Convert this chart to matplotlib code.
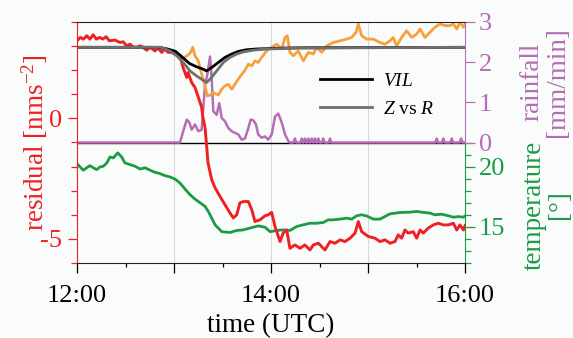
import matplotlib
matplotlib.use("Agg")
import matplotlib.pyplot as plt
from matplotlib.ticker import FixedLocator, FuncFormatter, MultipleLocator

plt.rcParams['font.family'] = ['Liberation Serif', 'DejaVu Serif']
plt.rcParams['mathtext.fontset'] = 'custom'
plt.rcParams['mathtext.rm'] = 'Liberation Serif'
plt.rcParams['mathtext.it'] = 'Liberation Serif:italic'
plt.rcParams['axes.unicode_minus'] = False
plt.rcParams['font.size'] = 19

# minutes after 12:00 UTC
red_t = [0, 2, 4, 6, 8, 10, 12, 14, 16, 18, 20, 23.5, 26.6, 28.5, 30.7, 32.8, 34.6, 36.9, 39, 40.8,
         43.1, 45.2, 48.2, 50.1, 52.4, 54.4, 56.3, 58.6, 60.6, 63.7, 65.6, 67.9, 68.7, 70.9, 73, 74.8,
         77.1, 77.9, 79.2, 80.2, 81, 83.3, 85.4, 88.5, 91.5, 94.6, 96.7, 98.8, 100.8, 102.9, 106, 108.1,
         110.1, 113.2, 116.3, 118.3, 120.4, 122.5, 125.6, 127.6, 129.7, 131.7, 134.8, 137.9, 141, 144.1,
         146.2, 149.3, 153.4, 156.5, 159.6, 162.7, 165.8, 168.9, 172, 174, 176.1, 180.2, 184.3, 187.4,
         190.5, 193.6, 196.7, 198.7, 200.8, 202.9, 204.9, 208, 210.1, 212.2, 214.2, 217.3, 220.4, 223.5,
         226.6, 229.7, 232.8, 234.9, 236.9, 239, 240]
residual = [3.22, 3.36, 3.29, 3.43, 3.29, 3.47, 3.29, 3.36, 3.29, 3.39, 3.22, 3.25, 3.15, 3.18, 3.01,
            3.08, 2.97, 2.95, 3.01, 2.95, 2.83, 2.95, 2.80, 2.92, 2.74, 2.88, 2.74, 2.74, 2.67, 2.60,
            2.11, 1.70, 1.90, 1.49, 1.28, 0.93, 0.46, 0.04, -0.38, -1.15, -1.83, -2.54, -2.88, -3.24,
            -3.58, -3.92, -4.13, -4.0, -3.5, -3.45, -3.45, -3.79, -4.28, -4.21, -4.04, -4.0, -3.9, -4.49,
            -5.11, -4.75, -4.63, -5.39, -5.25, -5.39, -5.25, -5.46, -5.25, -5.18, -5.46, -5.11, -5.18,
            -5.04, -5.11, -4.97, -4.76, -4.28, -4.70, -4.90, -4.97, -5.11, -5.04, -5.18, -5.11, -4.83,
            -4.97, -4.63, -4.76, -4.70, -4.97, -4.63, -4.76, -4.55, -4.42, -4.35, -4.42, -4.42, -4.35,
            -4.63, -4.42, -4.63, -4.45]

corr_t = [66, 69.9, 71.6, 73, 75, 77.1, 79.2, 80.6, 82.3, 84.3, 87.4, 89.5, 91.5, 93.6, 95.7, 97.7,
          99.8, 101.9, 103.9, 106, 108.1, 110.1, 112.1, 114.2, 117.3, 120.4, 123.5, 126.6, 128.7, 130.1,
          131.7, 133.8, 136.9, 140, 143.1, 146.2, 148.2, 151.4, 154.5, 158.5, 162.7, 166.8, 169.9, 172.6,
          174, 176.1, 179.2, 183.3, 187.4, 190.5, 193.6, 195.6, 197.7, 200.8, 203.9, 207, 210.1, 212.2,
          215.3, 218.3, 221.4, 224.5, 227.6, 230.7, 232.8, 234.9, 236.9, 239, 240]
corrected = [2.5, 2.7, 2.95, 2.6, 2.39, 1.83, 1.35, 0.93, 0.97, 1.07, 0.97, 1.21, 1.35, 1.42, 1.21,
             1.42, 1.63, 1.83, 2.0, 2.25, 2.18, 2.39, 2.32, 2.53, 2.8, 2.95, 3.08, 2.88, 3.36, 3.43,
             2.74, 2.6, 2.8, 2.39, 2.74, 2.67, 2.95, 2.74, 3.01, 3.15, 3.22, 3.29, 3.36, 3.57, 3.92,
             3.43, 3.29, 3.29, 3.15, 3.08, 3.22, 3.36, 3.01, 3.36, 3.64, 3.36, 3.5, 3.71, 3.36, 3.57,
             3.78, 3.92, 3.85, 3.85, 3.92, 3.71, 3.99, 3.78, 3.9]

vil_t = [0, 50, 56, 61, 65, 69.5, 74, 78.1, 80.2, 83.3, 87.4, 91.5, 95.7, 99.8, 105, 111.2, 119.4,
         129.7, 137.9, 240]
vil = [2.95, 2.95, 2.88, 2.78, 2.55, 2.28, 2.14, 2.04, 1.97, 2.11, 2.32, 2.53, 2.67, 2.78, 2.85,
       2.88, 2.9, 2.92, 2.93, 2.95]

zr_t = [0, 52, 57.5, 61.7, 65.7, 69.9, 74, 78.1, 80.2, 82.3, 86.4, 90.5, 94.6, 98.8, 102.9, 109.1,
        117.3, 127.6, 137.9, 240]
zr = [2.95, 2.95, 2.8, 2.6, 2.32, 1.97, 1.76, 1.58, 1.49, 1.63, 1.97, 2.32, 2.53, 2.67, 2.76, 2.83,
      2.88, 2.9, 2.92, 2.95]

rain_t = [0, 63.7, 65.7, 67.9, 69.5, 70.9, 73, 75, 77.1, 79.2, 80.6, 82.3, 83.3, 84.3, 86.4, 88, 89.5,
          91.5, 93.6, 95.7, 97.7, 99.8, 101.9, 103.9, 106, 107.4, 109.1, 110.7, 112.1, 114.2, 116.3,
          118.3, 120.4, 122.5, 124.5, 126.6, 128.7, 130.8, 131.7, 134, 134.8, 135.6, 138.2, 139, 139.8,
          140.2, 141, 141.8, 142.3, 143.1, 143.9, 144.4, 145.2, 146, 146.4, 147.2, 148, 148.5, 149.3,
          150.1, 151.5, 152.3, 153.1, 155.7, 156.5, 157.3, 221.7, 222.5, 223.3, 225.8, 226.6, 227.4,
          231, 231.8, 232.6, 236.8, 237.6, 238.4, 240]
rainfall = [0, 0, 0.28, 0.57, 0.5, 0.32, 0.45, 0.28, 0.32, 1.44, 1.69, 2.14, 1.6, 0.78, 0.69, 0.98,
            0.61, 0.53, 0.36, 0.28, 0.24, 0.2, 0.07, 0.1, 0.36, 0.57, 0.55, 0.45, 0.2, 0.12, 0.15, 0.07,
            0.2, 0.65, 0.72, 0.5, 0.2, 0.03, 0, 0, 0.1, 0, 0, 0.1, 0, 0, 0.1, 0, 0, 0.1, 0, 0, 0.1, 0,
            0, 0.1, 0, 0, 0.1, 0, 0, 0.1, 0, 0, 0.1, 0, 0, 0.1, 0, 0, 0.1, 0, 0, 0.1, 0, 0, 0.1, 0, 0]

temp_t = [0, 1.9, 3.9, 6, 8, 10.1, 12.2, 14.2, 16.3, 18.4, 20.4, 22.5, 25.2, 27.6, 29.7, 32.8, 35.9,
          39, 42.1, 45.2, 48.2, 51.3, 54.4, 57.5, 60.6, 63.7, 66.8, 69.9, 73, 76.1, 79.2, 81.2, 82.3,
          85.4, 89.5, 94.6, 98.8, 102.9, 107, 112.1, 116.3, 119.4, 123.5, 127.6, 131.7, 135.9, 140,
          144.1, 148.2, 152.3, 155.4, 158.5, 162.7, 166.8, 169.9, 173, 176.1, 179.2, 183.3, 187.4,
          190.5, 193.6, 199.8, 206, 210.1, 214.2, 218.3, 221.4, 225.6, 229.7, 232.8, 235.9, 239, 240]
temperature = [20.25, 19.97, 19.7, 19.9, 20.08, 19.9, 19.75, 19.97, 20.03, 20.3, 20.8, 20.72, 21.14,
               20.8, 20.3, 20.17, 20.03, 19.8, 19.9, 19.7, 19.53, 19.42, 19.25, 19.14, 18.97, 18.64,
               18.14, 17.67, 17.3, 17.0, 16.7, 16.28, 16.0, 15.17, 14.6, 14.53, 14.7, 14.75, 14.9,
               15.08, 14.97, 14.6, 14.7, 14.75, 14.7, 15.03, 15.17, 15.3, 15.3, 15.36, 15.58, 15.58,
               15.64, 15.72, 15.64, 15.92, 16.0, 15.9, 15.64, 15.64, 15.86, 16.08, 16.19, 16.22,
               16.28, 16.2, 16.14, 16.0, 16.05, 15.92, 15.8, 15.85, 15.8, 15.9]

c_red = '#ef1f24'
c_orange = '#f7a03c'
c_purple = '#b56db5'
c_green = '#1c9a45'
c_grey = '#6f6f6f'
bg = '#fafcfb'

fig = plt.figure(figsize=(5.73, 3.38), dpi=100, facecolor=bg)
ax = fig.add_axes([77 / 573, 1 - 263 / 338, 388 / 573, 241 / 338])
ax_t = ax.twinx()
ax_r = ax.twinx()
ax_t.set_zorder(1)
ax_r.set_zorder(2)
ax.set_zorder(3)
ax.patch.set_visible(False)
ax_t.patch.set_visible(True)
ax_t.patch.set_facecolor(bg)

# temperature (bottom half)
for m in [60, 120, 180]:
    ax_t.axvline(m, color='#d9d9d9', lw=0.8, zorder=0)
ax_t.plot(temp_t, temperature, color=c_green, lw=2.0)
ax_t.set_ylim(12, 32)
ax_t.yaxis.set_major_locator(FixedLocator([15, 20]))
ax_t.yaxis.set_minor_locator(FixedLocator(list(range(12, 23))))
ax_t.tick_params(axis='y', which='major', colors=c_green, length=7, width=0.9, pad=3, labelsize=19)
ax_t.tick_params(axis='y', which='minor', colors=c_green, length=4, width=0.9)
ax_t.spines['right'].set_bounds(12, 22)
ax_t.spines['right'].set_color(c_green)
for s in ['top', 'bottom', 'left']:
    ax_t.spines[s].set_visible(False)

# rainfall (top half)
ax_r.axhline(0, color='black', lw=1.0)
ax_r.plot(rain_t, rainfall, color=c_purple, lw=1.8)
ax_r.set_ylim(-3, 3)
ax_r.yaxis.set_major_locator(FixedLocator([0, 1, 2, 3]))
ax_r.yaxis.set_minor_locator(FixedLocator([]))
ax_r.tick_params(axis='y', which='major', colors=c_purple, length=7, width=0.9, pad=3, labelsize=19)
ax_r.spines['right'].set_bounds(0, 3)
ax_r.spines['right'].set_color(c_purple)
for s in ['top', 'bottom', 'left']:
    ax_r.spines[s].set_visible(False)

# residuals
ax.plot(red_t, residual, color=c_red, lw=2.1)
ax.plot(corr_t, corrected, color=c_orange, lw=2.0)
ax.plot(vil_t, vil, color='black', lw=2.0, label='$VIL$')
ax.plot(zr_t, zr, color=c_grey, lw=2.0, label='$Z$ vs $R$')
ax.set_xlim(0, 240)
ax.set_ylim(-6, 4)
ax.yaxis.set_major_locator(FixedLocator([-5, 0]))
ax.yaxis.set_minor_locator(MultipleLocator(1))
ax.yaxis.set_major_formatter(FuncFormatter(lambda v, p: f'{v:g}'))
ax.tick_params(axis='y', which='major', colors=c_red, length=6.5, width=0.9, pad=4, labelsize=19)
ax.tick_params(axis='y', which='minor', colors=c_red, length=4, width=0.9)
ax.spines['left'].set_color(c_red)
ax.spines['right'].set_visible(False)
ax.spines['top'].set_color('#222222')
ax.spines['bottom'].set_color('#222222')

ax.xaxis.set_major_locator(MultipleLocator(60))
ax.xaxis.set_minor_locator(MultipleLocator(30))
ax.xaxis.set_major_formatter(FuncFormatter(
    lambda m, p: f'{12 + int(m) // 60}:00' if int(m) % 120 == 0 else ''))
ax.tick_params(axis='x', which='major', length=7, width=0.9, pad=8.5, labelsize=19)
ax.tick_params(axis='x', which='minor', length=3, width=0.9)
ax.set_xlabel('time (UTC)', fontsize=19.5, labelpad=5)

ax.legend(loc='center left', bbox_to_anchor=(320 / 573, 1 - 95 / 338), bbox_transform=fig.transFigure,
          frameon=False, fontsize=14, handlelength=2.65, handletextpad=0.6, labelspacing=0.55,
          borderpad=0, borderaxespad=0)

fig.text(35 / 573, 1 - 143 / 338, 'residual [nms$^{-2}$]', color=c_red, rotation=90,
         ha='center', va='center', fontsize=19.5)
fig.text(545 / 573, 1 - 82 / 338, 'rainfall\n[mm/min]', color=c_purple, rotation=90,
         ha='center', va='center', multialignment='center', fontsize=19.5, linespacing=1.05)
fig.text(547 / 573, 1 - 205 / 338, 'temperature\n[°]', color=c_green, rotation=90,
         ha='center', va='center', multialignment='center', fontsize=19.5, linespacing=1.05)

fig.savefig('out.png', dpi=100, facecolor=bg)
